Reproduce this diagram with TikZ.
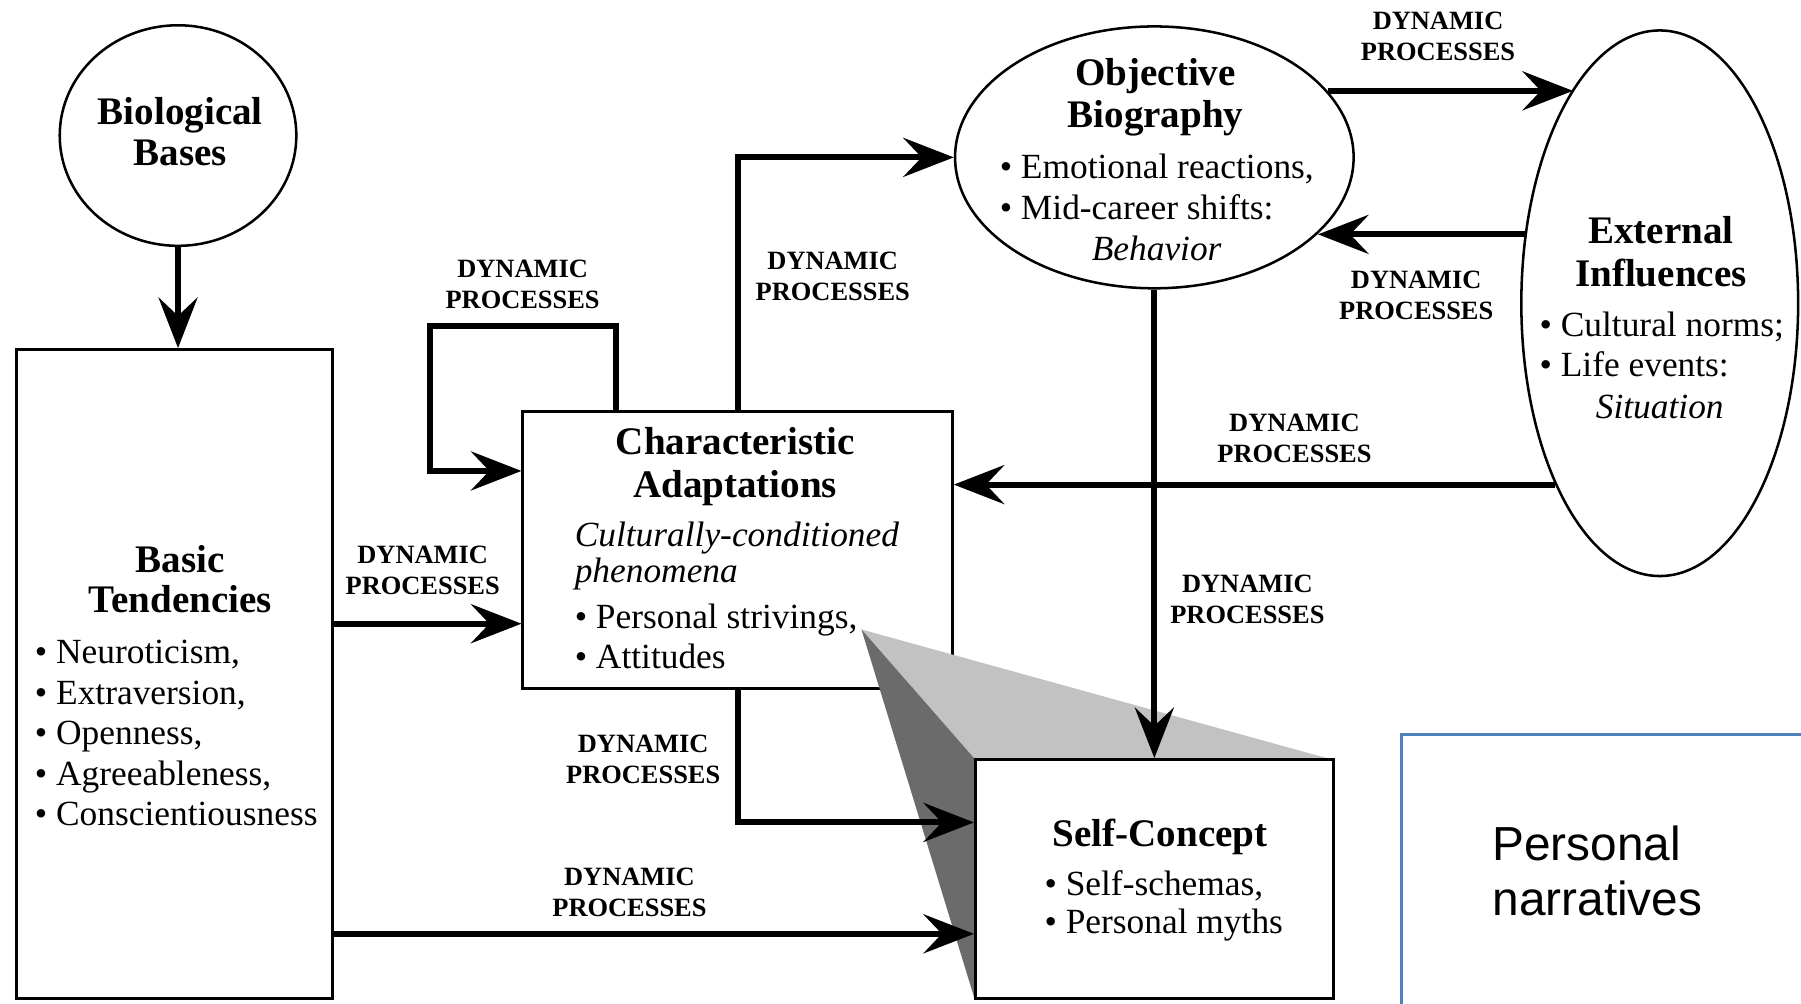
\documentclass[tikz,border=0pt]{standalone}
\usepackage{fontspec}
\setmainfont{Liberation Serif}
\newfontfamily\narrfont{Liberation Sans}
\usetikzlibrary{arrows.meta,shapes.geometric,calc}
\definecolor{narrblue}{RGB}{79,129,189}
\tikzset{
  box/.style={draw, line width=1.2pt, rectangle, inner sep=0pt, anchor=north west},
  oval/.style={draw, line width=1.1pt, ellipse, inner sep=0pt},
  arr/.style={line width=2.6pt, -{Stealth[length=22pt,width=17pt,inset=8pt]}},
  title/.style={font=\fontsize{17}{17.5}\selectfont\bfseries, inner sep=0pt, anchor=base},
  body/.style={font=\fontsize{15.4}{17.75}\selectfont, inner sep=0pt, anchor=base west},
  bodyit/.style={font=\fontsize{15.4}{17.75}\selectfont\itshape, inner sep=0pt, anchor=base},
  dyn/.style={font=\fontsize{11.5}{13.5}\selectfont\bfseries, align=center, inner sep=0pt},
  narr/.style={font=\fontsize{20.8}{24.5}\selectfont\narrfont, inner sep=0pt, anchor=base west},
}
\begin{document}
\begin{tikzpicture}[x=0.5pt, y=-0.5pt]
\useasboundingbox (0,0) rectangle (1568,874);
\fill[white] (0,0) rectangle (1568,874);
\clip (0,0) rectangle (1568,874);

% shapes
\node[oval, minimum width=103pt, minimum height=96pt] (bio) at (155,118) {};
\node[box, minimum width=137.5pt, minimum height=282.5pt] (basic) at (13,303) {};
\node[box, minimum width=187pt, minimum height=120.5pt] (char) at (454,357) {};
\node[oval, minimum width=173.5pt, minimum height=114pt] (obj) at (1005,137) {};
\node[oval, minimum width=120.5pt, minimum height=237.5pt] (ext) at (1445,264) {};

% stippled projection
\coordinate (apex) at (750,548);
\fill[black!24] (apex) -- (1155,660) -- (848,660) -- cycle;
\fill[black!58] (apex) -- (848,660) -- (848,868) -- cycle;

\node[box, minimum width=156pt, minimum height=104pt] (self) at (848,660) {};
\node[draw=narrblue, line width=1.2pt, rectangle, inner sep=0pt, anchor=north west,
      minimum width=200pt, minimum height=150pt] (narrbox) at (1219,638) {};

% connectors
\draw[arr] (bio.south) -- (bio.south |- basic.north);
\draw[arr] (basic.east |- 0,543) -- (char.west |- 0,543);
\draw[arr] (basic.east |- 0,813) -- (self.west |- 0,813);
\draw[arr] (char.south) |- (self.west |- 0,716);
\draw[arr] (char.north) |- (obj.west);
\draw[arr] ([xshift=41pt]char.north west) -- ++(0,-73) -- ++(-162,0) |- (char.west |- 0,410);
\draw[arr] (obj.21.5) -- (obj.21.5 -| ext.112);
\draw[arr] (ext.153) -- (ext.153 -| obj.-25.4);
\draw[arr] (ext.-120) -- (ext.-120 -| char.east);
\draw[arr] (obj.south) -- (obj.south |- self.north);

% connector labels
\node[dyn] (d1) at (455,248) {DYNAMIC\\PROCESSES};
\node[dyn] (d2) at (725,241) {DYNAMIC\\PROCESSES};
\node[dyn] (d3) at (1252,32) {DYNAMIC\\PROCESSES};
\node[dyn] (d4) at (1233,257) {DYNAMIC\\PROCESSES};
\node[dyn] (d5) at (1127,382) {DYNAMIC\\PROCESSES};
\node[dyn] (d6) at (1086,522) {DYNAMIC\\PROCESSES};
\node[dyn] (d7) at (368,497) {DYNAMIC\\PROCESSES};
\node[dyn] (d8) at (560,661) {DYNAMIC\\PROCESSES};
\node[dyn] (d9) at (548,777) {DYNAMIC\\PROCESSES};

% texts
\node[title] (bioT1) at (157,108) {Biological};
\node[title] (bioT2) at (157,144) {Bases};

\node[title] (basT1) at (157,498) {Basic};
\node[title] (basT2) at (157,533) {Tendencies};
\node[body] (basL1) at (30,578) {• Neuroticism,};
\node[body] (basL2) at (30,613) {• Extraversion,};
\node[body] (basL3) at (30,648) {• Openness,};
\node[body] (basL4) at (30,684) {• Agreeableness,};
\node[body] (basL5) at (30,719) {• Conscientiousness};

\node[title] (chaT1) at (640,396) {Characteristic};
\node[title] (chaT2) at (640,433) {Adaptations};
\node[body, font=\fontsize{15.4}{17.75}\selectfont\itshape] (chaL1) at (500,476) {Culturally-conditioned};
\node[body, font=\fontsize{15.4}{17.75}\selectfont\itshape] (chaL2) at (500,507) {phenomena};
\node[body] (chaL3) at (500,547) {• Personal strivings,};
\node[body] (chaL4) at (500,582) {• Attitudes};

\node[title] (objT1) at (1006,74) {Objective};
\node[title] (objT2) at (1006,111) {Biography};
\node[body] (objL1) at (870,155) {• Emotional reactions,};
\node[body] (objL2) at (870,191) {• Mid-career shifts:};
\node[bodyit] (objL3) at (1007,227) {Behavior};

\node[title] (extT1) at (1446,212) {External};
\node[title] (extT2) at (1446,249) {Influences};
\node[body] (extL1) at (1340,293) {• Cultural norms;};
\node[body] (extL2) at (1340,328) {• Life events:};
\node[bodyit] (extL3) at (1445,364) {Situation};

\node[title] (selT1) at (1010,737) {Self-Concept};
\node[body] (selL1) at (909,780) {• Self-schemas,};
\node[body] (selL2) at (909,813) {• Personal myths};

\node[narr] (narT1) at (1299,749) {Personal};
\node[narr] (narT2) at (1299,797) {narratives};
\end{tikzpicture}
\end{document}
